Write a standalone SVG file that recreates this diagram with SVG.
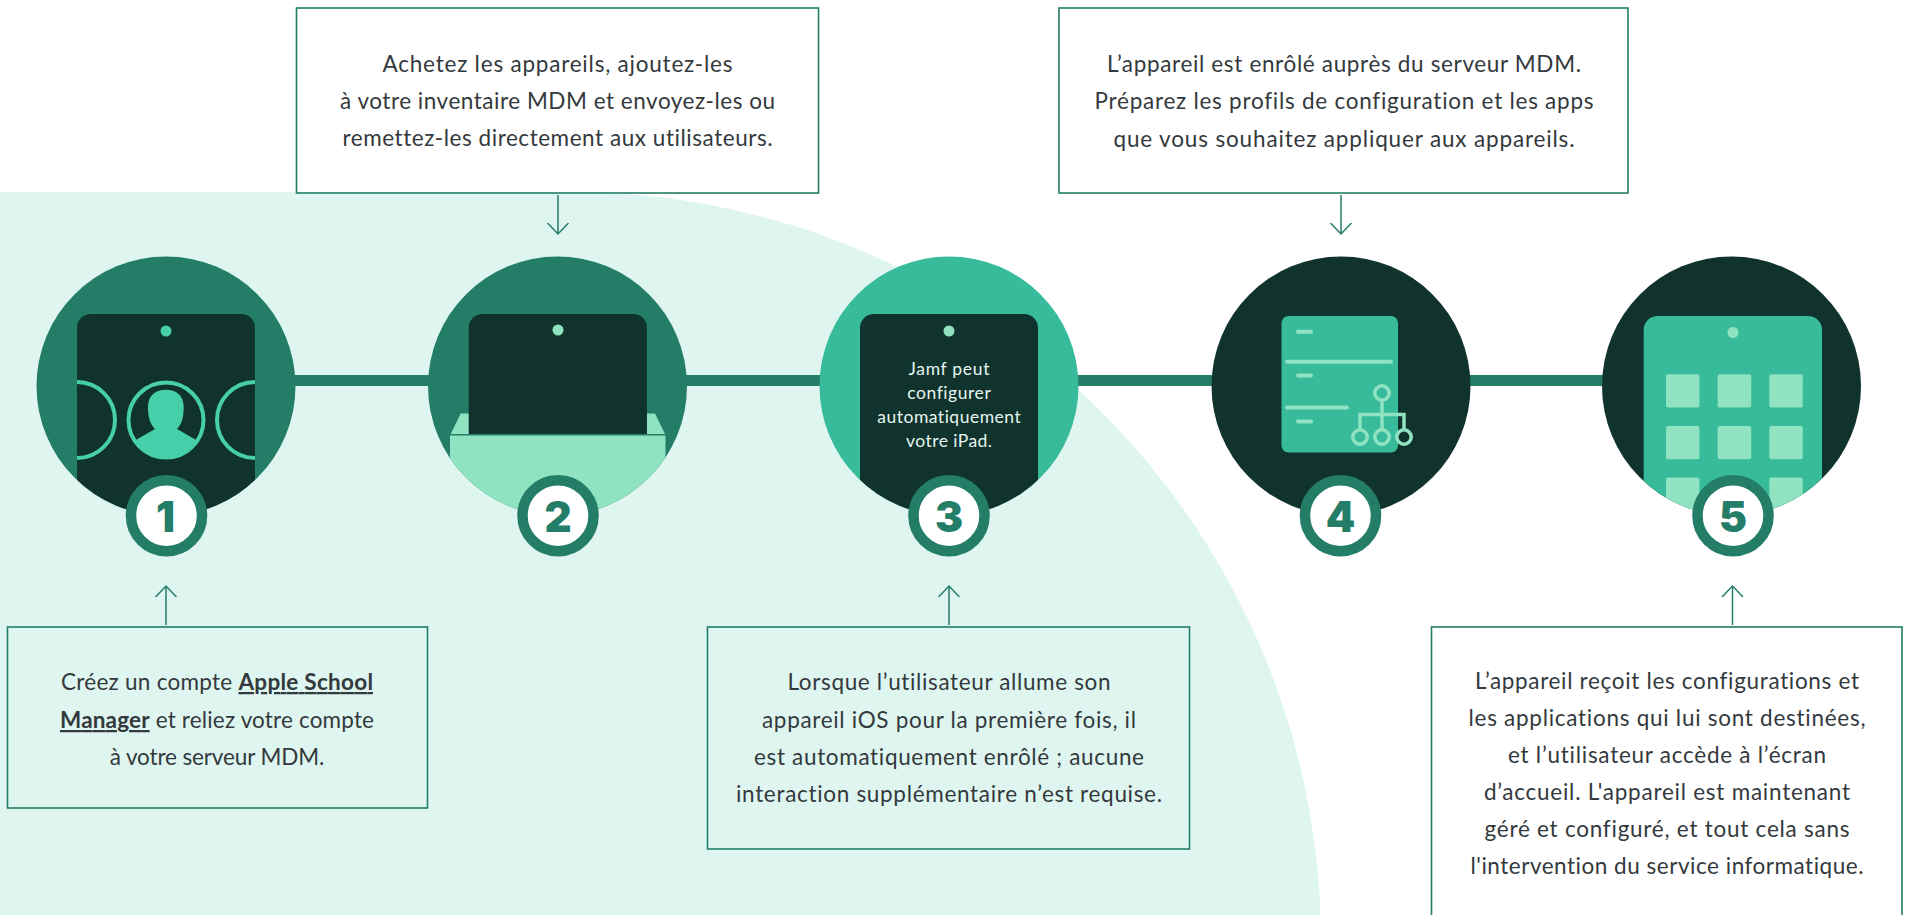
<svg xmlns="http://www.w3.org/2000/svg" width="1908" height="915" viewBox="0 0 1908 915">
<style>
.t{font-family:"Lato","Liberation Sans",sans-serif;font-size:22.5px;font-variant-ligatures:none;fill:#33393d;text-anchor:middle}
.s{font-family:"Lato","Liberation Sans",sans-serif;font-size:17.5px;font-variant-ligatures:none;fill:#e6f5f0;text-anchor:middle}
.n{font-family:"Inter","Liberation Sans",sans-serif;font-weight:900;font-size:42px;fill:#237d67;text-anchor:middle}
.box{stroke:#237d67;stroke-width:1.6}
.c{fill:none;stroke:#237d67;stroke-width:1.5}
.badge{fill:#fff;stroke:#237d67;stroke-width:10.5}
.dark{fill:#10332d}.mid{fill:#237d67}.teal{fill:#38bb9a}.light{fill:#8fe3c1}.mint{fill:#47cfa9}
</style>
<defs>
<clipPath id="c1"><circle cx="166" cy="386" r="129.5"/></clipPath>
<clipPath id="c2"><circle cx="557.5" cy="386" r="129.5"/></clipPath>
<clipPath id="c3"><circle cx="949" cy="386" r="129.5"/></clipPath>
<clipPath id="c5"><circle cx="1731.5" cy="386" r="129.5"/></clipPath>
<clipPath id="pc"><circle cx="166" cy="420" r="39"/></clipPath>
<clipPath id="ph"><rect x="77" y="314" width="178" height="220"/></clipPath>
<marker id="a" markerUnits="userSpaceOnUse" markerWidth="22" markerHeight="24" refX="11" refY="12" orient="auto"><path d="M0 1.5 L11 12 L0 22.5" fill="none" stroke="#237d67" stroke-width="1.5"/></marker>
</defs>
<path id="background" d="M0 192 H571 A750 750 0 0 1 1321 942 V915 H0 Z" fill="#dff6f0"/>
<g id="connectors">
<rect class="mid" x="290" y="375" width="1320" height="11"/>
<path class="c" d="M558 195 V234" marker-end="url(#a)"/>
<path class="c" d="M1341 195 V234" marker-end="url(#a)"/>
<path class="c" d="M166 625 V586" marker-end="url(#a)"/>
<path class="c" d="M949 625 V586" marker-end="url(#a)"/>
<path class="c" d="M1732.5 625 V586" marker-end="url(#a)"/>
</g>
<g id="node1">
<circle class="mid" cx="166" cy="386" r="129.5"/>
<g clip-path="url(#c1)">
<rect class="dark" x="77" y="314" width="178" height="240" rx="14"/>
<circle class="mint" cx="166" cy="331" r="5.5"/>
<g clip-path="url(#ph)" fill="none" stroke="#47cfa9" stroke-width="4">
<circle cx="77" cy="420" r="38"/><circle cx="166" cy="420" r="37.5"/><circle cx="255" cy="420" r="38"/>
</g>
<path class="mint" clip-path="url(#pc)" d="M148 407C148 395 156 389.7 166 389.7C176 389.7 183.7 395 183.7 407C183.7 417 182 424 177 429L198 441V462H134V441L155 429C150 424 148 417 148 407Z"/>
</g>
<circle class="badge" cx="166.5" cy="515.7" r="35.5"/>
<text class="n" x="165.5" y="532">1</text>
</g>
<g id="node2">
<circle class="mid" cx="557.5" cy="386" r="129.5"/>
<g clip-path="url(#c2)">
<path class="light" d="M450.7 434L460.7 413.5H655L665 434Z"/>
<path class="dark" d="M468.7 434V328a14 14 0 0 1 14-14H633a14 14 0 0 1 14 14V434Z"/>
<rect class="light" x="450" y="435.5" width="215.5" height="90"/>
</g>
<circle class="light" cx="558" cy="330" r="5.5"/>
<circle class="badge" cx="558" cy="515.7" r="35.5"/>
<text class="n" x="558" y="532">2</text>
</g>
<g id="node3">
<circle class="teal" cx="949" cy="386" r="129.5"/>
<rect class="dark" clip-path="url(#c3)" x="860" y="314" width="178" height="240" rx="14"/>
<circle class="light" cx="949" cy="331" r="5.5"/>
<text class="s" x="949" y="374.5" textLength="81">Jamf peut</text>
<text class="s" x="949" y="398.5" textLength="83.5">configurer</text>
<text class="s" x="949" y="422.5" textLength="143.5">automatiquement</text>
<text class="s" x="949" y="446.5" textLength="86">votre iPad.</text>
<circle class="badge" cx="949" cy="515.7" r="35.5"/>
<text class="n" x="949" y="532">3</text>
</g>
<g id="node4">
<circle class="dark" cx="1341" cy="386" r="129.5"/>
<rect class="teal" x="1281.5" y="316" width="116.5" height="136.5" rx="7"/>
<g class="light">
<rect x="1296" y="329.7" width="17" height="4" rx="2"/><rect x="1285" y="359.7" width="108" height="4" rx="2"/>
<rect x="1296" y="373.5" width="17" height="4" rx="2"/><rect x="1285" y="405.5" width="64" height="4" rx="2"/>
<rect x="1296" y="419.5" width="17" height="4" rx="2"/>
</g>
<g fill="none" stroke="#8fe3c1" stroke-width="3.5">
<circle cx="1382" cy="393" r="7.2"/><circle cx="1360" cy="437" r="7.2"/><circle cx="1382" cy="437" r="7.2"/><circle cx="1404" cy="437" r="7.2"/>
<path d="M1382 400V430M1360 430V414.5H1404V430"/>
</g>
<circle class="badge" cx="1340.5" cy="515.7" r="35.5"/>
<text class="n" x="1340.5" y="532">4</text>
</g>
<g id="node5">
<circle class="dark" cx="1731.5" cy="386" r="129.5"/>
<g clip-path="url(#c5)">
<rect class="teal" x="1643.7" y="316" width="178.3" height="240" rx="14"/>
<g class="light">
<rect x="1666" y="374.3" width="33.5" height="33.3" rx="2"/><rect x="1717.7" y="374.3" width="33.5" height="33.3" rx="2"/><rect x="1769.3" y="374.3" width="33.5" height="33.3" rx="2"/>
<rect x="1666" y="426" width="33.5" height="33.3" rx="2"/><rect x="1717.7" y="426" width="33.5" height="33.3" rx="2"/><rect x="1769.3" y="426" width="33.5" height="33.3" rx="2"/>
<rect x="1666" y="477.5" width="33.5" height="33.3" rx="2"/><rect x="1769.3" y="477.5" width="33.5" height="33.3" rx="2"/>
</g>
</g>
<circle class="light" cx="1733" cy="332.5" r="5.5"/>
<circle class="badge" cx="1733" cy="515.7" r="35.5"/>
<text class="n" x="1733" y="532">5</text>
</g>
<g id="box-top-2">
<rect class="box" x="296.5" y="8" width="522" height="185" fill="#fff"/>
<text class="t" x="557.5" y="72" textLength="350">Achetez les appareils, ajoutez-les</text>
<text class="t" x="557.5" y="109" textLength="435">à votre inventaire MDM et envoyez-les ou</text>
<text class="t" x="557.5" y="146" textLength="430">remettez-les directement aux utilisateurs.</text>
</g>
<g id="box-top-4">
<rect class="box" x="1059" y="8" width="569" height="185" fill="#fff"/>
<text class="t" x="1344" y="72" textLength="474">L’appareil est enrôlé auprès du serveur MDM.</text>
<text class="t" x="1344" y="109" textLength="499">Préparez les profils de configuration et les apps</text>
<text class="t" x="1344" y="146.5" textLength="461">que vous souhaitez appliquer aux appareils.</text>
</g>
<g id="box-1">
<rect class="box" x="7.5" y="627" width="420" height="181" fill="none"/>
<text class="t" x="217" y="690" textLength="312">Créez un compte <tspan font-weight="700" text-decoration="underline">Apple School</tspan></text>
<text class="t" x="217" y="728" textLength="314"><tspan font-weight="700" text-decoration="underline">Manager</tspan> et reliez votre compte</text>
<text class="t" x="217" y="765" textLength="214.5">à votre serveur MDM.</text>
</g>
<g id="box-3">
<rect class="box" x="707.5" y="627" width="482" height="222" fill="none"/>
<text class="t" x="949" y="690" textLength="323">Lorsque l’utilisateur allume son</text>
<text class="t" x="949" y="728" textLength="374">appareil iOS pour la première fois, il</text>
<text class="t" x="949" y="765" textLength="390">est automatiquement enrôlé ; aucune</text>
<text class="t" x="949" y="802" textLength="426">interaction supplémentaire n’est requise.</text>
</g>
<g id="box-5">
<rect class="box" x="1431.5" y="627" width="470.5" height="300" fill="#fff"/>
<text class="t" x="1667" y="689" textLength="384">L’appareil reçoit les configurations et</text>
<text class="t" x="1667" y="726" textLength="397">les applications qui lui sont destinées,</text>
<text class="t" x="1667" y="762.5" textLength="318">et l’utilisateur accède à l’écran</text>
<text class="t" x="1667" y="800" textLength="366">d’accueil. L'appareil est maintenant</text>
<text class="t" x="1667" y="837" textLength="365">géré et configuré, et tout cela sans</text>
<text class="t" x="1667" y="874" textLength="393">l'intervention du service informatique.</text>
</g>
</svg>
